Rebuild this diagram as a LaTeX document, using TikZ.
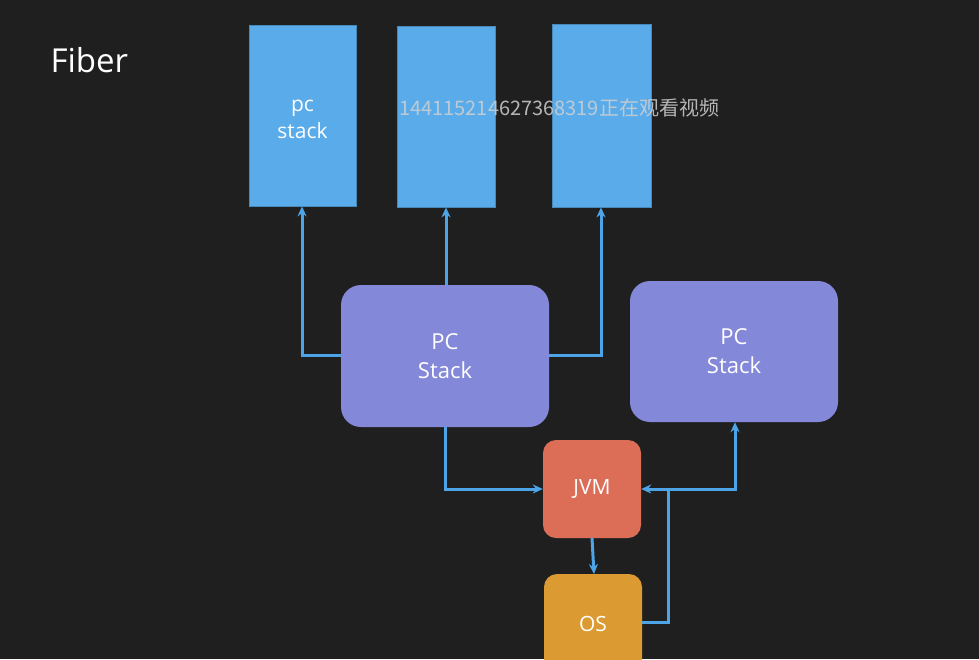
\documentclass[tikz,border=0pt]{standalone}
\usepackage{fontspec}
\setmainfont{Open Sans}
\newfontfamily\cjk{Noto Sans CJK SC}
\usetikzlibrary{arrows.meta}
\definecolor{board}{HTML}{1F1F1F}
\definecolor{stackblue}{HTML}{5AABEA}
\definecolor{pcviolet}{HTML}{8488D8}
\definecolor{jvmred}{HTML}{DC6E58}
\definecolor{osorange}{HTML}{DC9A32}
\definecolor{linkblue}{HTML}{4DA5E8}
\definecolor{wm}{HTML}{D0D0D0}
\tikzset{
  px/.style={x=1pt,y=-1pt},
  stackbox/.style={fill=stackblue, draw=stackblue!80!black, line width=0.8pt, minimum width=#1, align=center, text=white, font=\fontsize{21}{27}\selectfont, inner sep=0pt},
  pcbox/.style={fill=pcviolet, rounded corners=20pt, minimum width=208pt, minimum height=142pt, align=center, text=white, font=\fontsize{22}{29}\selectfont, inner sep=0pt},
  smallbox/.style={fill=#1, rounded corners=13pt, minimum width=98pt, minimum height=98pt, text=white, font=\fontsize{21}{24}\selectfont, inner sep=0pt},
  link/.style={draw=linkblue, line width=3pt, -{Stealth[length=10pt,width=9pt]}},
  plainlink/.style={draw=linkblue, line width=3pt}
}
\begin{document}
\begin{tikzpicture}[px]
\useasboundingbox (0,0) rectangle (979,659);
\fill[board] (0,0) rectangle (979,659);
% title
\node[text=white, font=\fontsize{33}{38}\selectfont, anchor=west] (title) at (47,60) {Fiber};
% blue stack boxes
\node[stackbox=107pt, minimum height=181pt] (s1) at (302.5,115.5) {};
\node[text=white, font=\fontsize{21}{27}\selectfont, align=center, inner sep=0pt] (s1t) at (302.5,119) {pc\\stack};
\node[stackbox=98pt, minimum height=181pt] (s2) at (446,116.5) {};
\node[stackbox=99pt, minimum height=183pt] (s3) at (601.5,115.5) {};
% PC stacks
\node[pcbox] (pc1) at (445,356) {PC\\Stack};
\node[pcbox, minimum height=141pt] (pc2) at (734,351.5) {PC\\Stack};
% JVM and OS
\node[smallbox=jvmred] (jvm) at (592,489) {JVM};
\begin{scope}
\clip (0,0) rectangle (979,659);
\node[smallbox=osorange, minimum height=100pt] (os) at (593,624) {OS};
\end{scope}
% connectors
\coordinate (a1) at (302,355);
\coordinate (a3) at (601,355);
\draw[link] (pc1.west |- a1) -- (a1) -- (s1.south -| a1);
\draw[link] (pc1.north -| s2) -- (s2.south);
\draw[link] (pc1.east |- a3) -- (a3) -- (s3.south -| a3);
\coordinate (b1) at (445,489);
\draw[link] (pc1.south -| b1) -- (b1) -- (jvm.west |- b1);
\draw[link] (592,538) -- (594,574);
\coordinate (c1) at (668,622);
\coordinate (c2) at (668,489);
\coordinate (c3) at (735,489);
\draw[plainlink] (os.east |- c1) -- (c1) -- (c2);
\draw[link] (c2) -- (jvm.east |- c2);
\draw[link] (c2) -- (c3) -- (pc2.south -| c3);
% watermark
\node[text=wm, opacity=0.85, font=\cjk\fontsize{20}{23}\selectfont, anchor=west, inner sep=0pt] (wmk) at (399,108) {144115214627368319正在观看视频};
\end{tikzpicture}
\end{document}
